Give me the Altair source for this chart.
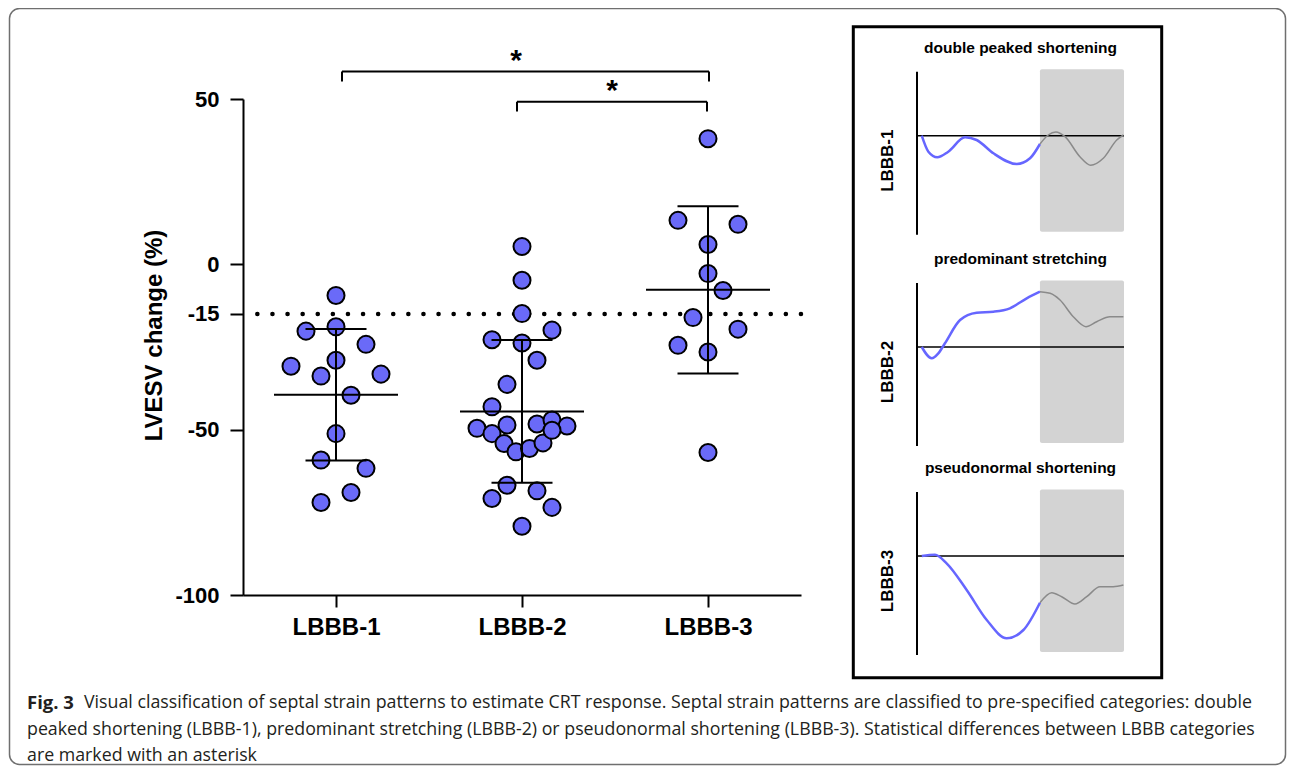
import altair as alt
import pandas as pd

# ---------------- data ----------------
groups = ["LBBB-1", "LBBB-2", "LBBB-3"]

lbbb1_values = [-9.4, -20.2, -18.9, -24.2, -29.0, -30.8, -33.8, -33.2, -39.6, -51.2, -59.2, -61.7, -69.0, -72.0]
lbbb1_lanes = [0, -2, 0, 2, 0, -3, -1, 3, 1, 0, -1, 2, 1, -1]

lbbb2_values = [5.4, -4.8, -14.9, -22.8, -19.9, -23.8, -29.0, -36.3, -43.1, -49.6, -51.2, -48.6, -54.2,
                -56.7, -55.7, -54.0, -48.3, -47.1, -48.9, -50.2, -66.8, -68.5, -70.8, -73.5, -79.2]
lbbb2_lanes = [0, 0, 0, -2, 2, 0, 1, -1, -2, -3, -2, -1, -1.2, -0.4, 0.5, 1.4, 1, 2, 3, 2, -1, 1, -2, 2, 0]

lbbb3_values = [38.0, 13.3, 12.1, 6.0, -2.8, -7.9, -16.1, -19.6, -24.5, -26.5, -56.9]
lbbb3_lanes = [0, -2, 2, 0, 0, 1, -1, 2, -2, 0, 0]

y_ticks = [50, 0, -15, -50, -100]
response_cutoff = -15

comparison_from = ["LBBB-1", "LBBB-2"]
comparison_to = ["LBBB-3", "LBBB-3"]
comparison_level = [58.3, 49.2]
comparison_mark = ["*", "*"]

panel_titles = ["double peaked shortening", "predominant stretching", "pseudonormal shortening"]
panel_labels = ["LBBB-1", "LBBB-2", "LBBB-3"]
avc_time = 59.4

strain1_t = [2.3, 5.5, 9.8, 15.1, 23.2, 28.8, 36.9, 48.2, 54.6, 59.4, 63.4, 67.1, 71.5, 78.7, 83.9, 90.0, 96.5, 99.7]
strain1_s = [0, -1.6, -2.16, -1.6, -0.16, -0.43, -1.76, -2.83, -2.26, -0.83, 0.07, 0.37, -0.1, -2.1, -2.96, -2.26, -0.43, 0.07]

strain2_t = [2.3, 7.1, 10.3, 13.5, 20.8, 28.8, 36.9, 44.9, 53.0, 59.4, 64.3, 69.1, 75.5, 81.6, 86.8, 93.2, 99.7]
strain2_s = [0, -1.13, -0.63, 0.37, 2.7, 3.43, 3.53, 3.87, 4.87, 5.53, 5.37, 4.7, 3.03, 2.03, 2.53, 3.03, 3.03]

strain3_t = [2.3, 8.7, 14.3, 24.0, 33.7, 43.3, 51.4, 59.4, 65.1, 69.9, 76.3, 82.0, 88.4, 94.8, 99.7]
strain3_s = [0, 0.13, -0.73, -3.4, -6.4, -8.23, -7.4, -4.67, -3.67, -4.07, -4.8, -4.07, -3.07, -3.07, -2.9]

caption_bold = "Fig. 3"
caption_lines = [
    "Visual classification of septal strain patterns to estimate CRT response. Septal strain patterns are classified to pre-specified categories: double",
    "peaked shortening (LBBB-1), predominant stretching (LBBB-2) or pseudonormal shortening (LBBB-3). Statistical differences between LBBB categories",
    "are marked with an asterisk",
]

# ---------------- styles ----------------
AX_FONT = "Liberation Sans"
CAP_FONT = "Open Sans"
BLUE = "#6a6af8"
PW, PH = 558, 496
BRACKET_LEFT_NUDGE = [6, -5]   # pixel nudges of the bracket left ends
BRACKET_RIGHT_NUDGE = [1, -1]
AST_DX = [-6, -96]

pts_df = pd.DataFrame({
    "group": [groups[0]] * len(lbbb1_values) + [groups[1]] * len(lbbb2_values) + [groups[2]] * len(lbbb3_values),
    "value": lbbb1_values + lbbb2_values + lbbb3_values,
    "lane": lbbb1_lanes + lbbb2_lanes + lbbb3_lanes,
})

main_x = alt.Scale(type="point", domain=groups, padding=0.5)
main_y = alt.Scale(domain=[-100, 50], nice=False, zero=False)
y_title = "LVESV change (%)"

x_axis = alt.Axis(labelFont=AX_FONT, labelFontSize=24, labelFontWeight="bold", labelColor="black",
                  labelAngle=0, labelPadding=8, tickSize=12, tickWidth=2, tickColor="black",
                  domainWidth=2, domainColor="black", grid=False, title=None)
y_axis = alt.Axis(values=y_ticks, labelExpr="'' + datum.value", labelFont=AX_FONT, labelFontSize=22,
                  labelFontWeight="bold", labelColor="black", labelPadding=11, labelOverlap=False,
                  tickSize=13, tickWidth=2, tickColor="black", domainWidth=2, domainColor="black", grid=False,
                  titleFont=AX_FONT, titleFontSize=24, titleFontWeight="bold", titleColor="black",
                  titleAngle=270, titleBaseline="alphabetic", titleAlign="center", titleX=-82, titleY=236)


def X(field):
    return alt.X(field, scale=main_x, title=None)


def Y(field):
    return alt.Y(field, scale=main_y, title=y_title)


cutoff = alt.Chart(pd.DataFrame({"value": [response_cutoff]})).mark_rule(
    color="black", strokeWidth=4.5, strokeDash=[0.1, 15], strokeCap="round"
).encode(y=Y("value:Q"))

points = alt.Chart(pts_df).mark_circle(
    size=290, fill=BLUE, stroke="black", strokeWidth=2, opacity=1, fillOpacity=1
).encode(
    x=alt.X("group:N", scale=main_x, axis=x_axis, title=None),
    xOffset=alt.XOffset("lane:Q", scale=alt.Scale(domain=[-3, 3], range=[-45, 45])),
    y=alt.Y("value:Q", scale=main_y, axis=y_axis, title=y_title),
)

stats = alt.Chart(pts_df).transform_aggregate(
    mean="mean(value)", sd="stdev(value)", groupby=["group"]
).transform_calculate(lo="datum.mean - datum.sd", hi="datum.mean + datum.sd")

mean_tick = stats.mark_tick(orient="horizontal", size=124, thickness=2, color="black", opacity=1).encode(
    x=X("group:N"), y=Y("mean:Q"))
sd_rule = stats.mark_rule(color="black", strokeWidth=2).encode(x=X("group:N"), y=Y("lo:Q"), y2="hi:Q")
caps = stats.transform_fold(["lo", "hi"], as_=["which", "v"]).mark_tick(
    orient="horizontal", size=61, thickness=2, color="black", opacity=1
).encode(x=X("group:N"), y=Y("v:Q"))

br_df = pd.DataFrame({"g1": comparison_from, "g2": comparison_to, "level": comparison_level,
                      "mark": comparison_mark, "mid": [groups[1], groups[2]]})
br_layers = []
for i in range(len(br_df)):
    row = br_df.iloc[[i]]
    lnudge, rnudge = BRACKET_LEFT_NUDGE[i], BRACKET_RIGHT_NUDGE[i]
    br_layers.append(alt.Chart(row).mark_rule(color="black", strokeWidth=2, xOffset=lnudge, x2Offset=rnudge).encode(
        x=X("g1:N"), x2="g2:N", y=Y("level:Q")))
    br_layers.append(alt.Chart(row).transform_calculate(foot="datum.level - 3").mark_rule(
        color="black", strokeWidth=2, xOffset=lnudge).encode(x=X("g1:N"), y=Y("foot:Q"), y2="level:Q"))
    br_layers.append(alt.Chart(row).transform_calculate(foot="datum.level - 3").mark_rule(
        color="black", strokeWidth=2, xOffset=rnudge).encode(x=X("g2:N"), y=Y("foot:Q"), y2="level:Q"))
    br_layers.append(alt.Chart(row).mark_text(
        font=AX_FONT, fontSize=30, fontWeight="bold", color="black", baseline="alphabetic", dx=AST_DX[i], dy=-1.5
    ).encode(x=X("mid:N"), y=Y("level:Q"), text="mark:N"))

main = alt.layer(cutoff, points, mean_tick, sd_rule, caps, *br_layers)


# ---------------- strain panels ----------------
def strain_panel(t, s, title, label, zero_px):
    xs = alt.Scale(domain=[0, 100], range=[674, 881])
    ys = alt.Scale(domain=[-9.9, 6.4], range=[zero_px + 99, zero_px - 64])

    def PX(f):
        return alt.X(f, scale=xs, axis=None)

    def PY(f):
        return alt.Y(f, scale=ys, axis=None)

    df = pd.DataFrame({"t": t, "s": s})
    shade = alt.Chart(pd.DataFrame({"t0": [avc_time], "t1": [100], "s0": [6.65], "s1": [-9.6]})).mark_rect(
        color="#d3d3d3", cornerRadius=2).encode(x=PX("t0:Q"), x2="t1:Q", y=PY("s0:Q"), y2="s1:Q")
    vaxis = alt.Chart(pd.DataFrame({"t": [0], "top": [6.4], "bot": [-9.9]})).mark_rule(
        color="black", strokeWidth=2).encode(x=PX("t:Q"), y=PY("top:Q"), y2="bot:Q")
    zero = alt.Chart(pd.DataFrame({"t0": [0], "t1": [100], "s": [0]})).mark_rule(
        color="black", strokeWidth=1.5).encode(x=PX("t0:Q"), x2="t1:Q", y=PY("s:Q"))
    blue = alt.Chart(df).transform_filter(f"datum.t <= {avc_time}").mark_line(
        color="#6666ff", strokeWidth=2.5, interpolate="monotone").encode(x=PX("t:Q"), y=PY("s:Q"))
    gray = alt.Chart(df).transform_filter(f"datum.t >= {avc_time}").mark_line(
        color="#8a8a8a", strokeWidth=1.5, interpolate="monotone").encode(x=PX("t:Q"), y=PY("s:Q"))
    ttl = alt.Chart(pd.DataFrame({"t": [50], "s": [8.8], "txt": [title]})).mark_text(
        font=AX_FONT, fontSize=15.5, fontWeight="bold", color="black", baseline="middle", align="center"
    ).encode(x=PX("t:Q"), y=PY("s:Q"), text="txt:N")
    lab = alt.Chart(pd.DataFrame({"t": [-14], "s": [-2.5], "txt": [label]})).mark_text(
        font=AX_FONT, fontSize=17, fontWeight="bold", color="black", baseline="middle", align="center", angle=270
    ).encode(x=PX("t:Q"), y=PY("s:Q"), text="txt:N")
    return alt.layer(shade, vaxis, zero, blue, gray, ttl, lab)


p1 = strain_panel(strain1_t, strain1_s, panel_titles[0], panel_labels[0], 36.7)
p2 = strain_panel(strain2_t, strain2_s, panel_titles[1], panel_labels[1], 248)
p3 = strain_panel(strain3_t, strain3_s, panel_titles[2], panel_labels[2], 457)

one = pd.DataFrame({"k": [0]})
frame = alt.Chart(one).mark_rect(fillOpacity=0, stroke="black", strokeWidth=3).encode(
    x=alt.value(610.3), x2=alt.value(918.7), y=alt.value(-72.3), y2=alt.value(578.7))
outer = alt.Chart(one).mark_rect(fillOpacity=0, stroke="#6f6f6f", strokeWidth=1.5, cornerRadius=10).encode(
    x=alt.value(-233.5), x2=alt.value(1042.5), y=alt.value(-90.5), y2=alt.value(665.5))

CAP_SIZE = 17.8
cap_b = alt.Chart(one).mark_text(font=CAP_FONT, fontSize=18.5, fontWeight="bold", color="#231f20",
                                 align="left", baseline="middle").encode(
    x=alt.value(-216), y=alt.value(604), text=alt.value(caption_bold))
cap1 = alt.Chart(one).mark_text(font=CAP_FONT, fontSize=CAP_SIZE, color="#231f20", align="left",
                                baseline="middle").encode(
    x=alt.value(-159), y=alt.value(604), text=alt.value(caption_lines[0]))
cap2 = alt.Chart(one).mark_text(font=CAP_FONT, fontSize=CAP_SIZE, color="#231f20", align="left",
                                baseline="middle").encode(
    x=alt.value(-216), y=alt.value(631), text=alt.value(caption_lines[1]))
cap3 = alt.Chart(one).mark_text(font=CAP_FONT, fontSize=CAP_SIZE, color="#231f20", align="left",
                                baseline="middle").encode(
    x=alt.value(-216), y=alt.value(657), text=alt.value(caption_lines[2]))

chart = alt.layer(main, p1, p2, p3, frame, outer, cap_b, cap1, cap2, cap3).resolve_scale(
    x="independent", y="independent"
).properties(
    width=PW, height=PH,
    autosize=alt.AutoSizeParams(type="none"),
    padding={"left": 235, "top": 91, "right": 486, "bottom": 171},
).configure_view(stroke=None)

chart.save("out.html", embed_options={"renderer": "svg", "actions": False})
